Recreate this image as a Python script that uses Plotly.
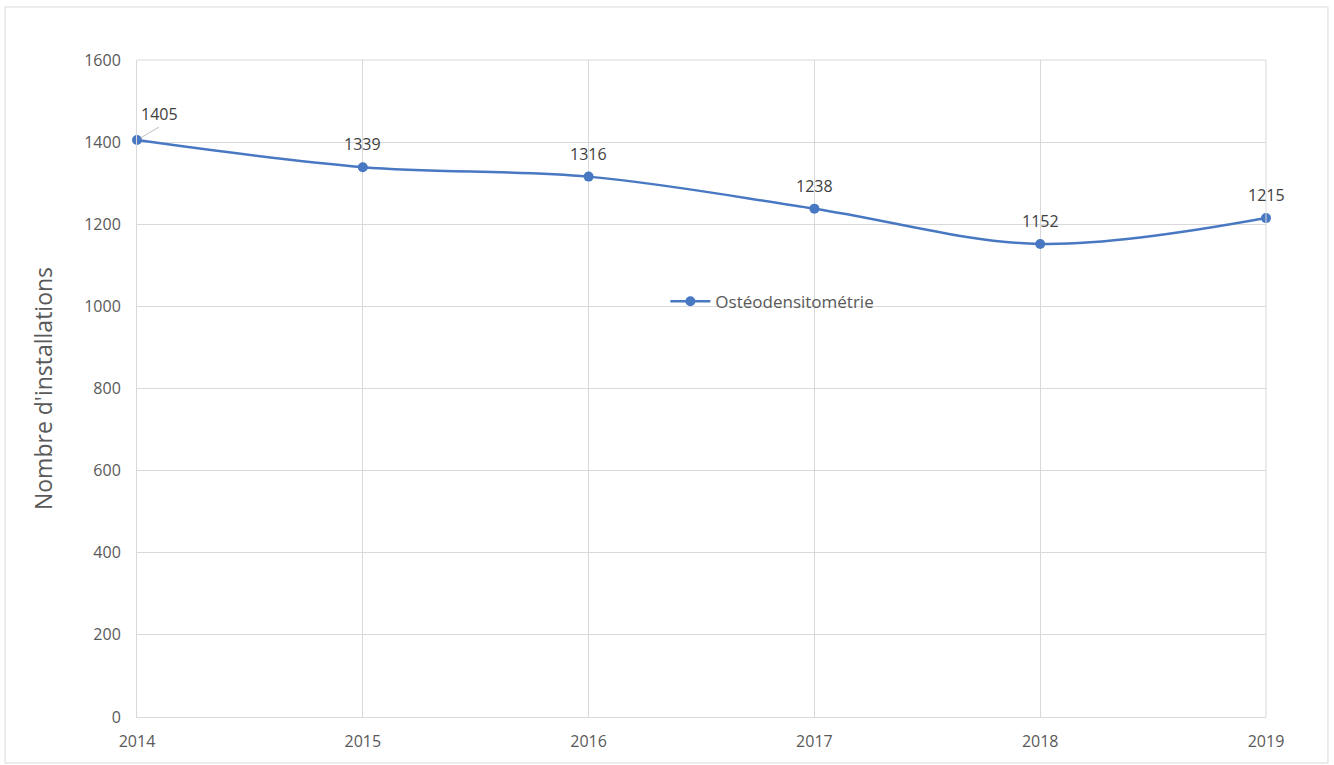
import plotly.graph_objects as go

years = [2014, 2015, 2016, 2017, 2018, 2019]
values = [1405, 1339, 1316, 1238, 1152, 1215]
series_name = "Ostéodensitométrie"
y_title = "Nombre d'installations"

blue = "#4878C2"
grid = "#d9d9d9"
tick_col = "#595959"
font_fam = "Open Sans, Noto Sans, sans-serif"

fig = go.Figure()
fig.add_trace(go.Scatter(
    x=years, y=values, name=series_name,
    mode="lines+markers",
    line=dict(color=blue, width=2.5, shape="spline", smoothing=1.0),
    marker=dict(color=blue, size=10),
    cliponaxis=False,
))

annotations = []
for i, (x, v) in enumerate(zip(years, values)):
    if i == 0:
        annotations.append(dict(x=x, y=v, text=str(v), showarrow=True,
                                ax=22, ay=-13, arrowhead=0, arrowwidth=1,
                                arrowcolor="#bfbfbf", standoff=4,
                                font=dict(size=16, color="#404040", family=font_fam),
                                xanchor="center", yanchor="bottom"))
    else:
        annotations.append(dict(x=x, y=v, text=str(v), showarrow=False,
                                yshift=10, yanchor="bottom",
                                font=dict(size=16, color="#404040", family=font_fam)))

fig.update_layout(
    width=1334, height=765,
    margin=dict(l=137, r=68, t=60, b=48),
    paper_bgcolor="white", plot_bgcolor="white",
    font=dict(family=font_fam, color=tick_col, size=16),
    showlegend=True,
    legend=dict(x=0.468, y=0.632, xanchor="left", yanchor="middle",
                bgcolor="rgba(0,0,0,0)", font=dict(size=17, color=tick_col),
                itemwidth=40),
    annotations=annotations,
    xaxis=dict(range=[2014, 2019], tickmode="array", tickvals=years,
               ticktext=[str(y) for y in years],
               showgrid=True, gridcolor=grid, gridwidth=1,
               zeroline=False, showline=True, linecolor=grid, linewidth=1,
               ticks="", ticklabelstandoff=10,
               tickfont=dict(size=16, color=tick_col)),
    yaxis=dict(range=[0, 1600], dtick=200, showgrid=True, gridcolor=grid,
               zeroline=False, showline=True, linecolor=grid, linewidth=1,
               ticks="", ticklabelstandoff=12,
               tickfont=dict(size=16, color=tick_col),
               title=dict(text=y_title, font=dict(size=23, color=tick_col), standoff=25)),
    shapes=[dict(type="line", xref="paper", yref="paper", x0=1, x1=1, y0=0, y1=1,
                 line=dict(color=grid, width=1)),
            dict(type="line", xref="paper", yref="paper", x0=0, x1=1, y0=1, y1=1,
                 line=dict(color=grid, width=1)),
            dict(type="rect", xref="paper", yref="paper",
                 x0=-0.1169, x1=1.0549, y0=-0.070, y1=1.0807,
                 line=dict(color="#d9d9d9", width=1), layer="below")],
)

fig.write_html("out.html", config={"displayModeBar": False},
               post_script="document.body.style.margin='0';document.body.style.overflow='hidden';")
